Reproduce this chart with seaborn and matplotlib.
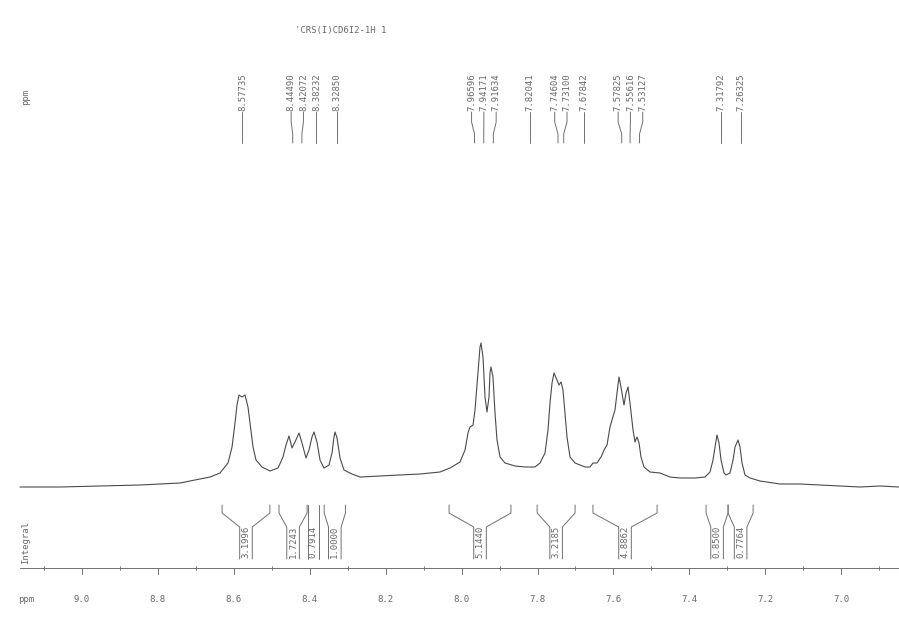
import numpy as np
import pandas as pd
import matplotlib
matplotlib.use("Agg")
import matplotlib.pyplot as plt
import seaborn as sns

# ---------------- data ----------------
title = "'CRS(I)CD6I2-1H 1"

# traced spectrum (chemical shift in ppm, relative intensity)
spec_ppm = [9.1633, 9.0580, 8.9526, 8.8472, 8.7418, 8.6891, 8.6628, 8.6365, 8.6154, 8.6048,
            8.5969, 8.5917, 8.5864, 8.5785, 8.5706, 8.5627, 8.5574, 8.5495, 8.5416, 8.5258,
            8.5047, 8.4837, 8.4705, 8.4626, 8.4547, 8.4468, 8.4389, 8.4283, 8.4204, 8.4099,
            8.4020, 8.3941, 8.3888, 8.3809, 8.3730, 8.3625, 8.3493, 8.3414, 8.3361, 8.3335,
            8.3282, 8.3203, 8.3098, 8.2887, 8.2676, 8.2150, 8.1623, 8.1096, 8.0832, 8.0569,
            8.0305, 8.0042, 7.9910, 7.9831, 7.9779, 7.9699, 7.9647, 7.9568, 7.9515, 7.9489,
            7.9436, 7.9383, 7.9331, 7.9278, 7.9252, 7.9225, 7.9173, 7.9120, 7.9067, 7.8988,
            7.8857, 7.8593, 7.8330, 7.8066, 7.7934, 7.7803, 7.7724, 7.7671, 7.7618, 7.7566,
            7.7487, 7.7434, 7.7381, 7.7329, 7.7276, 7.7223, 7.7144, 7.7012, 7.6749, 7.6617,
            7.6538, 7.6433, 7.6327, 7.6248, 7.6169, 7.6090, 7.6038, 7.5959, 7.5906, 7.5853,
            7.5801, 7.5722, 7.5669, 7.5616, 7.5564, 7.5484, 7.5432, 7.5379, 7.5326, 7.5274,
            7.5195, 7.5037, 7.4773, 7.4510, 7.4246, 7.3851, 7.3588, 7.3456, 7.3377, 7.3324,
            7.3272, 7.3219, 7.3166, 7.3087, 7.3035, 7.2929, 7.2850, 7.2797, 7.2718, 7.2666,
            7.2613, 7.2534, 7.2402, 7.2139, 7.1612, 7.1085, 7.0558, 7.0031, 6.9505, 6.8978,
            6.8478]
spec_int = [13, 13, 14, 15, 17, 21, 23, 27, 37, 53,
            77, 95, 105, 103, 105, 93, 77, 53, 40, 33,
            29, 32, 43, 55, 64, 52, 58, 67, 57, 42,
            50, 63, 68, 58, 40, 32, 35, 47, 63, 68,
            62, 42, 30, 26, 23, 24, 25, 26, 27, 28,
            32, 38, 50, 67, 73, 75, 90, 127, 153, 157,
            143, 103, 88, 103, 127, 133, 123, 87, 60, 43,
            37, 34, 33, 33, 37, 47, 70, 97, 117, 127,
            120, 115, 118, 110, 87, 63, 43, 37, 33, 33,
            37, 37, 43, 50, 55, 73, 80, 90, 107, 123,
            113, 95, 107, 113, 97, 70, 58, 63, 57, 43,
            33, 28, 27, 23, 22, 22, 23, 28, 40, 53,
            65, 57, 40, 27, 25, 27, 40, 53, 60, 53,
            37, 25, 22, 19, 16, 16, 15, 14, 13, 14,
            13]

peak_ppm = [8.57735, 8.44490, 8.42072, 8.38232, 8.32850, 7.96596, 7.94171, 7.91634,
            7.82041, 7.74604, 7.73100, 7.67842, 7.57825, 7.55616, 7.53127, 7.31792, 7.26325]
peak_labels = ["8.57735", "8.44490", "8.42072", "8.38232", "8.32850", "7.96596", "7.94171",
               "7.91634", "7.82041", "7.74604", "7.73100", "7.67842", "7.57825", "7.55616",
               "7.53127", "7.31792", "7.26325"]

integral_start = [8.631, 8.481, 8.405, 8.362, 8.033, 7.801, 7.654, 7.356, 7.298]
integral_end = [8.505, 8.407, 8.376, 8.306, 7.870, 7.701, 7.485, 7.298, 7.232]
integral_values = ["3.1996", "1.7243", "0.7914", "1.0000", "5.1440", "3.2185", "4.8862",
                   "0.8500", "0.7764"]

tick_values = [9.0, 8.8, 8.6, 8.4, 8.2, 8.0, 7.8, 7.6, 7.4, 7.2, 7.0]
tick_labels = ["9.0", "8.8", "8.6", "8.4", "8.2", "8.0", "7.8", "7.6", "7.4", "7.2", "7.0"]
minor_values = [9.1, 8.9, 8.7, 8.5, 8.3, 8.1, 7.9, 7.7, 7.5, 7.3, 7.1, 6.9]

# ---------------- figure ----------------
sns.set_theme(style="white")
W, H = 899, 637
fig = plt.figure(figsize=(W / 100, H / 100), dpi=100)
ax = fig.add_axes([0, 0, 1, 1])
PPX = 379.6                      # pixels per ppm
X0 = 9.0 + 82 / PPX              # ppm at left edge
ax.set_xlim(X0, X0 - W / PPX)
ax.set_ylim(500 - H, 500)
ax.axis("off")

def X(px):
    return X0 - px / PPX

def Y(py):
    return 500 - py

def to_px(ppm):
    return (X0 - ppm) * PPX

TXT = "#6a6a6a"
LN = "#707070"
mono = "DejaVu Sans Mono"

df = pd.DataFrame({"ppm": spec_ppm, "intensity": spec_int})
sns.lineplot(data=df, x="ppm", y="intensity", ax=ax, color="#4a4a4a", lw=0.8,
             estimator=None, sort=False)
ax.set_xlim(X0, X0 - W / PPX)
ax.set_ylim(500 - H, 500)
ax.axis("off")

# title and side labels
ax.text(X(341), Y(31), title, ha="center", va="center", fontsize=6.5, family=mono, color=TXT)
ax.text(X(26), Y(97), "ppm", ha="center", va="center", rotation=90, fontsize=6.5,
        family=mono, color=TXT)
ax.text(X(26), Y(542), "Integral", ha="center", va="center", rotation=90, fontsize=6.5,
        family=mono, color=TXT)

# peak labels with spreading
px = np.array([to_px(p) for p in peak_ppm])
order = np.argsort(px)
pos = px[order].astype(float).copy()
gap = 12.3
for _ in range(300):
    for i in range(len(pos) - 1):
        d = pos[i + 1] - pos[i]
        if d < gap:
            s = (gap - d) / 2
            pos[i] -= s
            pos[i + 1] += s
label_px = np.empty_like(pos)
label_px[order] = pos
for p, lx, lab in zip(px, label_px, peak_labels):
    ax.text(X(lx), Y(111), "\u2014" * 0 + lab, ha="center", va="bottom", rotation=90,
            fontsize=6.5, family=mono, color=TXT)
    ax.plot([X(lx), X(lx), X(p), X(p)], [Y(112), Y(122), Y(134), Y(143)],
            color=LN, lw=0.7)

# integral brackets
half = 6.3
for a, b, v in zip(integral_start, integral_end, integral_values):
    xa, xb = to_px(a), to_px(b)
    c = (xa + xb) / 2
    bl, br = c - half, c + half
    if xb - xa < 2 * half:
        bl, br = xa, xb
    ax.plot([X(xa), X(xa), X(bl), X(bl)], [Y(505), Y(513), Y(527), Y(559)], color=LN, lw=0.7)
    ax.plot([X(xb), X(xb), X(br), X(br)], [Y(505), Y(513), Y(527), Y(559)], color=LN, lw=0.7)
    ax.text(X(c), Y(542), v, ha="center", va="center", rotation=90, fontsize=6.5,
            family=mono, color=TXT)

# ppm axis
ax.plot([X(20), X(W)], [Y(568), Y(568)], color=LN, lw=0.7)
for t, lab in zip(tick_values, tick_labels):
    ax.plot([t, t], [Y(568), Y(574)], color=LN, lw=0.7)
    ax.text(t, Y(600), lab, ha="center", va="center", fontsize=6.5, family=mono, color=TXT)
for t in minor_values:
    ax.plot([t, t], [Y(566), Y(570)], color=LN, lw=0.6)
ax.text(X(26), Y(600), "ppm", ha="center", va="center", fontsize=6.5, family=mono, color=TXT)

fig.savefig("out.png", dpi=100, facecolor="white")
